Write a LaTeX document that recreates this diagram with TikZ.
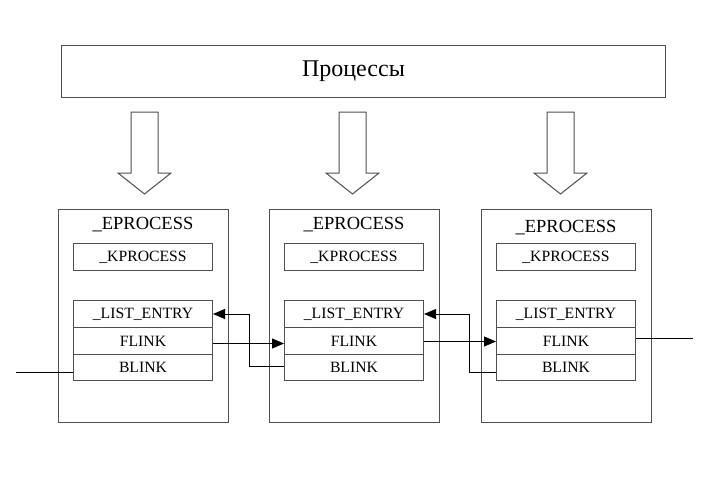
\documentclass[tikz,border=0pt]{standalone}
\usepackage{fontspec}
\setmainfont{Liberation Serif}
\usetikzlibrary{arrows.meta,calc}
\definecolor{boxgray}{HTML}{505050}
\begin{document}
\begin{tikzpicture}[x=1pt,y=-1pt,
  titlebox/.style={draw=boxgray, line width=1pt, minimum width=604pt, minimum height=52pt, anchor=north west, inner sep=0},
  titletext/.style={font=\fontsize{24}{26}\selectfont, inner sep=0},
  outer/.style={draw=boxgray, line width=1.1pt, minimum width=170pt, minimum height=213pt, anchor=north west, inner sep=0},
  outerlabel/.style={font=\fontsize{18.5}{20}\selectfont, inner sep=0},
  inner/.style={draw=boxgray, line width=1pt, minimum width=139pt, anchor=north west, inner sep=0, font=\fontsize{15.7}{17}\selectfont},
  bigarrow/.style={draw=boxgray, line width=1pt, fill=white},
  link/.style={draw=black, line width=0.9pt},
  tip/.style={-{Triangle[length=12pt,width=10pt]}}
]
\useasboundingbox (0,0) rectangle (722,488);
\node[titlebox] (top) at (61,45) {};
\node[titletext] (toptext) at (353.5,71) {Процессы};
\foreach \cx/\n in {144.5/1, 352.5/2, 560.5/3}{
  \draw[bigarrow] (\cx-13.5,112) -- (\cx+13.5,112) -- (\cx+13.5,173) -- (\cx+26.5,173) -- (\cx,194) -- (\cx-26.5,173) -- (\cx-13.5,173) -- cycle;
}
\foreach \x/\n/\ly in {58/1/225, 269/2/225, 481/3/228}{
  \node[outer] (e\n) at (\x,209) {};
  \node[outerlabel] (el\n) at (\x+85,\ly) {\_EPROCESS};
  \node[inner, minimum height=27pt] (k\n) at (\x+15,243) {\_KPROCESS};
  \node[inner, minimum height=27pt] (l\n) at (\x+15,300) {\_LIST\_ENTRY};
  \node[inner, minimum height=27pt] (f\n) at (\x+15,327) {FLINK};
  \node[inner, minimum height=26pt] (b\n) at (\x+15,354) {BLINK};
}
\coordinate (leftend) at ($(b1.west)+(-57,5)$);
\coordinate (rightend) at ($(f3.east)+(57,-2.5)$);
\draw[link] (leftend) -- (leftend -| b1.west);
\draw[link] (rightend -| f3.east) -- (rightend);
\draw[link,tip] ([yshift=-2.5pt]f1.east) -- ([yshift=-2.5pt]f2.west);
\draw[link,tip] ([yshift=-0.5pt]f2.east) -- ([yshift=-0.5pt]f3.west);
\draw[link,tip] ([yshift=1pt]b2.west) -- ++(-35,0) |- (l1.east);
\draw[link,tip] ([yshift=-5pt]b3.west) -- ++(-27,0) |- (l2.east);
\end{tikzpicture}
\end{document}
